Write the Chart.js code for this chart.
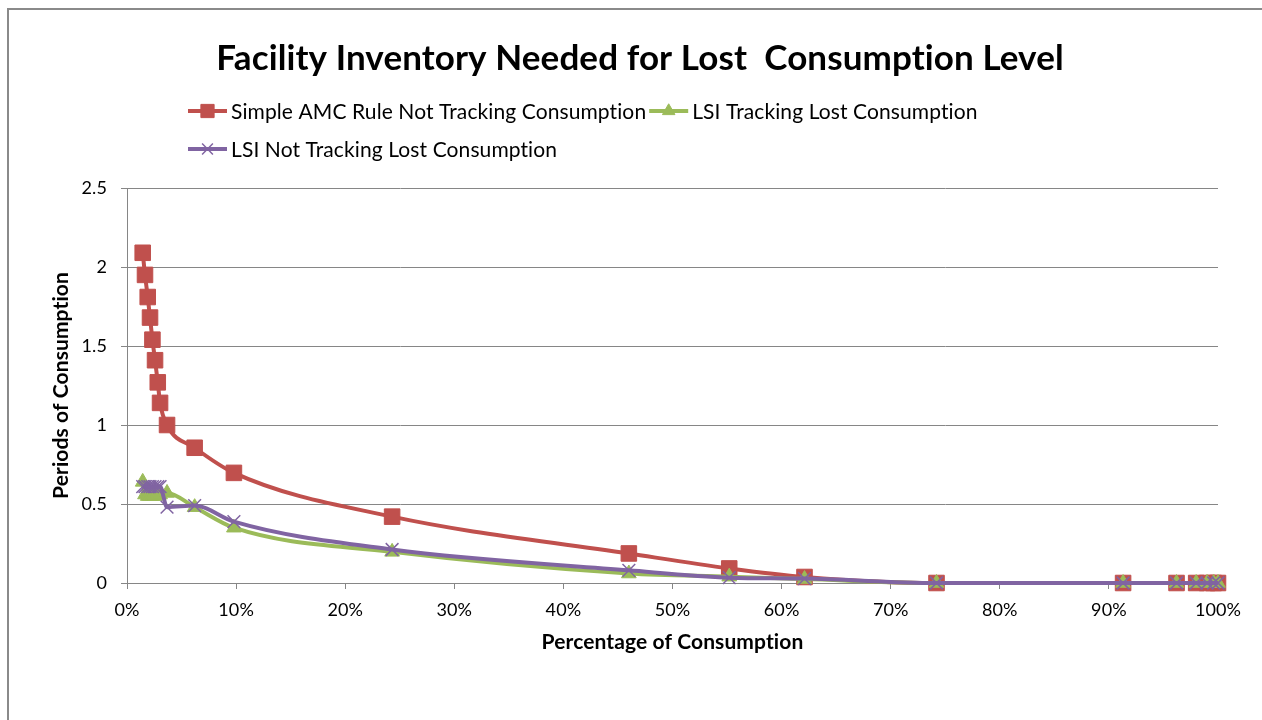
<!DOCTYPE html>
<html>
<head>
<meta charset="utf-8">
<script src="https://cdn.jsdelivr.net/npm/chart.js@4/dist/chart.umd.min.js"></script>
<style>
    html, body { margin: 0; padding: 0; background: #fff; overflow: hidden; }
    #frame { position: absolute; left: 7px; top: 8px; width: 1400px; height: 900px; border: 2px solid #8a8a8a; box-sizing: border-box; }
    #wrap { position: absolute; left: 0; top: 0; width: 1262px; height: 720px; }
</style>
</head>
<body>
<div id="frame"></div>
<div id="wrap"><canvas id="chart" width="1262" height="720"></canvas></div>
<script>
// ── Daten ──────────────────────────────────────────────────────────────────

const TITLE   = 'Facility Inventory Needed for Lost  Consumption Level';
const X_TITLE = 'Percentage of Consumption';
const Y_TITLE = 'Periods of Consumption';

const SERIES_NAMES = [
    'Simple AMC Rule Not Tracking Consumption',
    'LSI Tracking Lost Consumption',
    'LSI Not Tracking Lost Consumption',
];

// Percentage of consumption (x)
const PCT = [1.44, 1.65, 1.90, 2.11, 2.33, 2.57, 2.82, 3.03, 3.67, 6.2, 9.8,
             24.3, 46.0, 55.2, 62.1, 74.2, 91.3, 96.2, 98.0, 99.0, 99.6, 100];

// Periods of consumption (y)
const AMC_NOT_TRACKING = [2.09, 1.95, 1.81, 1.68, 1.54, 1.41, 1.27, 1.14, 1.00, 0.856, 0.697,
                          0.42, 0.187, 0.092, 0.038, 0, 0, 0, 0, 0, 0, 0];
const LSI_TRACKING     = [0.64, 0.56, 0.55, 0.55, 0.55, 0.55, 0.56, 0.56, 0.57, 0.48, 0.35,
                          0.197, 0.06, 0.04, 0.025, 0, 0, 0, 0, 0, 0, 0];
const LSI_NOT_TRACKING = [0.61, 0.61, 0.61, 0.61, 0.61, 0.61, 0.61, 0.61, 0.48, 0.49, 0.388,
                          0.212, 0.08, 0.034, 0.028, 0, 0, 0, 0, 0, 0, 0];

const Y_MAX  = 2.5;
const Y_STEP = 0.5;
const X_STEP = 10;

// ── Farben ─────────────────────────────────────────────────────────────────

const RED    = '#C0504D';
const GREEN  = '#9BBB59';
const PURPLE = '#8064A2';
const GRID   = '#868686';
const FONT   = 'Lato, "Open Sans", sans-serif';

// ── Titel + Legende (Excel-Stil) ───────────────────────────────────────────

const headerPlugin = {
    id: 'header',
    beforeDraw(chart) {
        // kleine Laufweite -> keine "ti"-Ligaturen bei Lato
        chart.ctx.letterSpacing = '0.1px';
    },
    afterDraw(chart) {
        const { ctx } = chart;
        ctx.save();
        ctx.fillStyle = '#000';
        ctx.textBaseline = 'middle';

        ctx.font = `bold 35px ${FONT}`;
        ctx.textAlign = 'center';
        ctx.fillText(TITLE, 640, 59);

        ctx.font = `21px ${FONT}`;
        ctx.textAlign = 'left';
        const startX = 188, maxX = 1000, rowH = 38;
        let x = startX, y = 111;
        chart.data.datasets.forEach(ds => {
            const w = 43 + ctx.measureText(ds.label).width;
            if (x > startX && x + w > maxX) { x = startX; y += rowH; }
            ctx.strokeStyle = ds.borderColor;
            ctx.lineWidth = ds.borderWidth;
            ctx.beginPath();
            ctx.moveTo(x, y);
            ctx.lineTo(x + 39, y);
            ctx.stroke();
            ctx.fillStyle = ds.pointBackgroundColor;
            ctx.strokeStyle = ds.pointBorderColor;
            ctx.lineWidth = ds.pointBorderWidth;
            Chart.helpers.drawPoint(ctx, {
                pointStyle: ds.pointStyle,
                radius: ds.pointRadius * 0.85,
                rotation: 0,
                borderWidth: ds.pointBorderWidth,
            }, x + 19.5, y);
            ctx.fillStyle = '#000';
            ctx.fillText(ds.label, x + 43, y + 1);
            x += w + 3;
        });
        ctx.restore();
    },
};

// ── Chart ──────────────────────────────────────────────────────────────────

function series(label, ys, color, style, radius, pointBorderWidth, order) {
    return {
        label,
        data: PCT.map((x, i) => ({ x, y: ys[i] })),
        borderColor: color,
        backgroundColor: color,
        pointBackgroundColor: color,
        pointBorderColor: color,
        pointStyle: style,
        pointRadius: radius,
        pointHoverRadius: radius,
        pointBorderWidth,
        borderWidth: 4,
        cubicInterpolationMode: 'monotone',
        fill: false,
        clip: false,
        order,
    };
}

new Chart(document.getElementById('chart'), {
    type: 'line',
    data: {
        datasets: [
            series(SERIES_NAMES[0], AMC_NOT_TRACKING, RED,    'rect',     11,  1,   3),
            series(SERIES_NAMES[1], LSI_TRACKING,     GREEN,  'triangle', 8.5, 1,   2),
            series(SERIES_NAMES[2], LSI_NOT_TRACKING, PURPLE, 'crossRot', 9,   1.5, 1),
        ],
    },
    options: {
        responsive: false,
        animation: false,
        events: [],
        layout: { padding: { top: 188, left: 45, right: 44, bottom: 65 } },
        plugins: {
            legend: { display: false },
            title: { display: false },
            tooltip: { enabled: false },
        },
        scales: {
            x: {
                type: 'linear',
                min: 0,
                max: 100,
                afterFit(scale) { scale.height = 72; },
                ticks: {
                    stepSize: X_STEP,
                    padding: 10,
                    color: '#000',
                    font: { family: FONT, size: 18 },
                    callback: v => v + '%',
                },
                grid: { drawOnChartArea: false, drawTicks: true, tickLength: 6, color: GRID },
                border: { color: GRID, width: 1 },
                title: {
                    display: true,
                    text: X_TITLE,
                    color: '#000',
                    padding: 0,
                    font: { family: FONT, size: 21, weight: 'bold' },
                },
            },
            y: {
                min: 0,
                max: Y_MAX,
                afterFit(scale) { scale.width = 82; },
                ticks: {
                    stepSize: Y_STEP,
                    padding: 14,
                    color: '#000',
                    font: { family: FONT, size: 18 },
                    callback: v => String(+v.toFixed(1)),
                },
                grid: { color: GRID, tickLength: 6, lineWidth: 1 },
                border: { color: GRID, width: 1 },
                title: {
                    display: true,
                    text: Y_TITLE,
                    color: '#000',
                    padding: { top: 4, bottom: 4 },
                    font: { family: FONT, size: 21, weight: 'bold' },
                },
            },
        },
    },
    plugins: [headerPlugin],
});
</script>
</body>
</html>
